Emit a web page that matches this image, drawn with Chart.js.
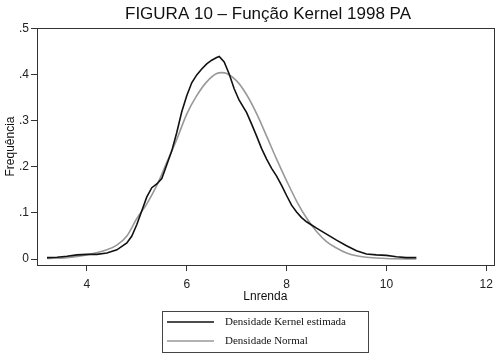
<!DOCTYPE html>
<html>
<head>
<meta charset="utf-8">
<script src="https://cdn.jsdelivr.net/npm/chart.js@4/dist/chart.umd.min.js"></script>
<style>
  html, body { margin: 0; padding: 0; background: #fff; }
  #wrap { width: 499px; height: 353px; }
</style>
</head>
<body>
<div id="wrap"><canvas id="kernelChart" width="499" height="353"></canvas></div>
<script>
// values
const kernelX = [3.2, 3.4, 3.6, 3.8, 4.0, 4.2, 4.4, 4.6, 4.8, 4.9, 5.0, 5.1, 5.2, 5.3, 5.4, 5.5, 5.6, 5.7, 5.8, 5.9,
  6.0, 6.1, 6.2, 6.3, 6.4, 6.5, 6.6, 6.65, 6.75, 6.85, 6.95, 7.05, 7.2, 7.3, 7.4, 7.5, 7.6, 7.7, 7.8, 7.9,
  8.0, 8.1, 8.2, 8.3, 8.4, 8.5, 8.6, 8.8, 9.0, 9.2, 9.4, 9.6, 9.8, 10.0, 10.2, 10.4, 10.6];
const kernelY = [0.003, 0.004, 0.006, 0.009, 0.010, 0.010, 0.013, 0.020, 0.035, 0.050, 0.075, 0.105, 0.135, 0.155, 0.163, 0.175, 0.205, 0.235, 0.275, 0.320,
  0.355, 0.383, 0.400, 0.413, 0.424, 0.432, 0.438, 0.440, 0.428, 0.402, 0.370, 0.345, 0.318, 0.293, 0.267, 0.240, 0.217, 0.197, 0.180, 0.160,
  0.138, 0.117, 0.102, 0.090, 0.081, 0.074, 0.067, 0.054, 0.041, 0.029, 0.018, 0.011, 0.009, 0.008, 0.005, 0.003, 0.003];

const normalX = [3.2, 3.6, 4.0, 4.4, 4.6, 4.8, 5.0, 5.2, 5.4, 5.6, 5.8, 6.0, 6.2, 6.4, 6.6, 6.7, 6.8, 7.0, 7.2, 7.4,
  7.6, 7.8, 8.0, 8.2, 8.4, 8.6, 8.8, 9.0, 9.2, 9.4, 9.6, 10.0, 10.6];
const normalY = [0.001, 0.003, 0.009, 0.020, 0.030, 0.050, 0.088, 0.120, 0.160, 0.210, 0.260, 0.315, 0.355, 0.385, 0.403, 0.405, 0.403, 0.387, 0.357, 0.316,
  0.267, 0.217, 0.170, 0.126, 0.089, 0.060, 0.038, 0.024, 0.013, 0.007, 0.004, 0.001, 0.000];

const xTicks = [4, 6, 8, 10, 12];
const yTicks = [0, 0.1, 0.2, 0.3, 0.4, 0.5];
const yTickLabels = ['0', '.1', '.2', '.3', '.4', '.5'];

const chartTitle = 'FIGURA 10 \u2013 Fun\u00e7\u00e3o Kernel 1998 PA';
const seriesNames = ['Densidade Kernel estimada', 'Densidade Normal'];

const toPoints = (xs, ys) => xs.map((x, i) => ({ x: x, y: ys[i] }));

// title over the plot box, box around plot area, framed legend underneath
const framePlugin = {
  id: 'frame',
  afterDraw(chart) {
    const { ctx, chartArea: a } = chart;
    ctx.save();
    ctx.strokeStyle = '#333';
    ctx.lineWidth = 1;
    ctx.strokeRect(Math.round(a.left) + 0.5, Math.round(a.top) + 0.5,
      Math.round(a.right - a.left), Math.round(a.bottom - a.top));

    ctx.font = '17px "Liberation Sans", Arial, sans-serif';
    ctx.fillStyle = '#111';
    ctx.textAlign = 'center';
    ctx.textBaseline = 'middle';
    ctx.fillText(chartTitle, 268, 14);

    // legend
    const lx = 162, ly = 311, lw = 206, lh = 41;
    ctx.strokeStyle = '#444';
    ctx.strokeRect(lx + 0.5, ly + 0.5, lw, lh);
    ctx.font = '11px "Liberation Serif", "Times New Roman", serif';
    ctx.textAlign = 'left';
    chart.data.datasets.forEach((ds, i) => {
      const y = ly + 11 + i * 19;
      ctx.strokeStyle = ds.borderColor;
      ctx.lineWidth = ds.borderWidth;
      ctx.beginPath();
      ctx.moveTo(lx + 5, y);
      ctx.lineTo(lx + 52, y);
      ctx.stroke();
      ctx.fillText(ds.label, lx + 63, y);
    });
    ctx.restore();
  }
};

const ctx = document.getElementById('kernelChart').getContext('2d');
const kernelChart = new Chart(ctx, {
  type: 'scatter',
  data: {
    datasets: [{
      label: seriesNames[0],
      data: toPoints(kernelX, kernelY),
      showLine: true,
      borderColor: '#111',
      borderWidth: 1.6,
      pointRadius: 0,
      tension: 0
    }, {
      label: seriesNames[1],
      data: toPoints(normalX, normalY),
      showLine: true,
      borderColor: '#999',
      borderWidth: 1.6,
      pointRadius: 0,
      cubicInterpolationMode: 'monotone'
    }]
  },
  options: {
    responsive: false,
    animation: false,
    layout: { padding: { left: 0, right: 5, top: 28, bottom: 48 } },
    plugins: {
      legend: { display: false },
      tooltip: { enabled: false },
      title: { display: false }
    },
    scales: {
      x: {
        type: 'linear',
        min: 3.0,
        max: 12.15,
        afterBuildTicks: s => { s.ticks = xTicks.map(v => ({ value: v })); },
        afterFit: s => { s.height = 40; },
        ticks: {
          color: '#222',
          padding: 6,
          maxRotation: 0,
          font: { family: '"Liberation Sans", Arial, sans-serif', size: 12 }
        },
        grid: { drawOnChartArea: false, tickLength: 6, color: '#333' },
        border: { display: true, color: '#333' },
        title: {
          display: true,
          text: 'Lnrenda',
          color: '#111',
          padding: { top: 0, bottom: 1 },
          font: { family: '"Liberation Sans", Arial, sans-serif', size: 12 }
        }
      },
      y: {
        min: -0.013,
        max: 0.502,
        afterBuildTicks: s => { s.ticks = yTicks.map(v => ({ value: v })); },
        afterFit: s => { s.width = 37; },
        ticks: {
          color: '#222',
          padding: 2,
          font: { family: '"Liberation Sans", Arial, sans-serif', size: 12 },
          callback: (v) => {
            const i = yTicks.findIndex(t => Math.abs(t - v) < 1e-9);
            return i >= 0 ? yTickLabels[i] : '';
          }
        },
        grid: { drawOnChartArea: false, tickLength: 6, color: '#333' },
        border: { display: true, color: '#333' },
        title: {
          display: true,
          text: 'Frequ\u00eancia',
          color: '#111',
          padding: { top: 3, bottom: 0 },
          font: { family: '"Liberation Sans", Arial, sans-serif', size: 12 }
        }
      }
    }
  },
  plugins: [framePlugin]
});
</script>
</body>
</html>
